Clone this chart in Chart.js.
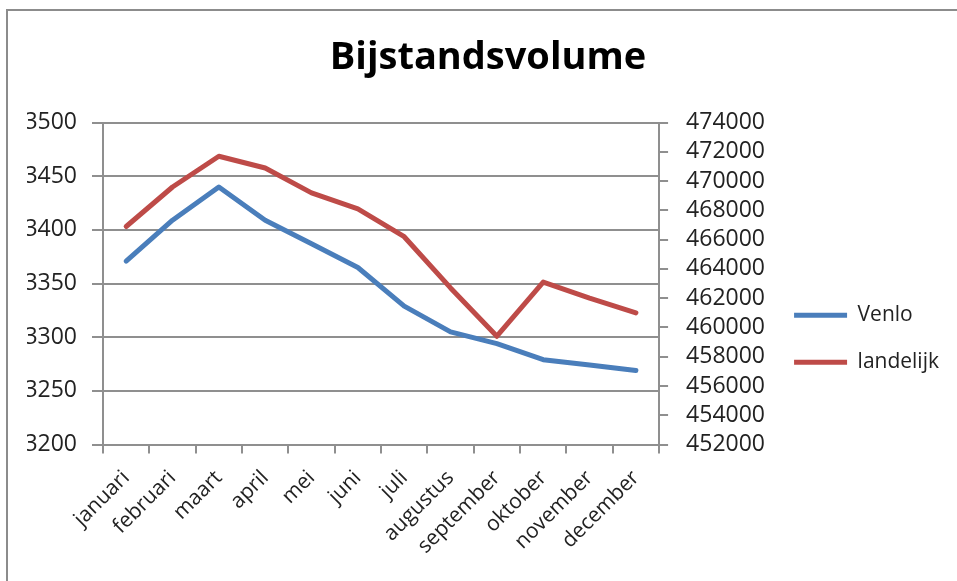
<!DOCTYPE html>
<html>
<head>
<meta charset="utf-8">
<script src="https://cdn.jsdelivr.net/npm/chart.js@4.4.1/dist/chart.umd.min.js"></script>
<style>
    html, body { margin: 0; padding: 0; background: #fff; overflow: hidden; }
    .frame { position: absolute; left: 6px; top: 9px; width: 1000px; height: 1000px;
             border-top: 2px solid #8c8c8c; border-left: 2px solid #8c8c8c; }
    #chart { position: absolute; left: 0; top: 0; }
</style>
</head>
<body>
<div class="frame"></div>
<canvas id="chart" width="957" height="581"></canvas>
<script>
const months = ['januari', 'februari', 'maart', 'april', 'mei', 'juni', 'juli', 'augustus', 'september', 'oktober', 'november', 'december'];
const venlo = [3371, 3409, 3440, 3409, 3387, 3365, 3329, 3305, 3294, 3279, 3274, 3269];
const landelijk = [466900, 469600, 471700, 470900, 469200, 468100, 466200, 462700, 459400, 463100, 462000, 461000];
const seriesNames = ['Venlo', 'landelijk'];

const gridColor = '#8f8f8f';
const textColor = '#222';

document.addEventListener('DOMContentLoaded', () => {
    let ctx = document.getElementById('chart').getContext('2d');
    new Chart(ctx, {
        type: 'line',
        data: {
            labels: months,
            datasets: [{
                label: seriesNames[0],
                data: venlo,
                yAxisID: 'y',
                borderColor: '#4a7ebb',
                backgroundColor: '#4a7ebb',
                borderWidth: 5,
                pointRadius: 0,
                tension: 0,
                borderJoinStyle: 'round',
                borderCapStyle: 'round'
            }, {
                label: seriesNames[1],
                data: landelijk,
                yAxisID: 'y1',
                borderColor: '#be4b48',
                backgroundColor: '#be4b48',
                borderWidth: 5,
                pointRadius: 0,
                tension: 0,
                borderJoinStyle: 'round',
                borderCapStyle: 'round'
            }]
        },
        options: {
            responsive: false,
            animation: false,
            layout: { padding: { left: 27, right: 8, top: 0, bottom: 0 } },
            plugins: {
                title: {
                    display: true,
                    text: 'Bijstandsvolume',
                    color: '#000',
                    font: { family: 'Open Sans', size: 38, weight: 'bold' },
                    padding: { top: 35, bottom: 42 }
                },
                legend: {
                    position: 'right',
                    maxWidth: 220,
                    title: { display: true, text: '', padding: { top: 82, bottom: 0 }, font: { size: 12 } },
                    labels: {
                        boxWidth: 53,
                        boxHeight: 5,
                        padding: 26,
                        color: textColor,
                        font: { family: 'Open Sans', size: 21 },
                        generateLabels: chart => chart.data.datasets.map((ds, i) => ({
                            text: ds.label,
                            fillStyle: ds.borderColor,
                            strokeStyle: ds.borderColor,
                            fontColor: textColor,
                            lineWidth: 0,
                            datasetIndex: i
                        }))
                    }
                },
                tooltip: { enabled: false }
            },
            scales: {
                x: {
                    offset: true,
                    grid: { display: true, drawOnChartArea: false, offset: true, tickLength: 9, color: gridColor, lineWidth: 2 },
                    border: { color: gridColor, width: 2 },
                    ticks: { minRotation: 45, maxRotation: 45, padding: 12, color: textColor, font: { family: 'Open Sans', size: 21 } },
                    afterFit: s => { s.height = 136.5; }
                },
                y: {
                    position: 'left',
                    min: 3200,
                    max: 3500,
                    ticks: { stepSize: 50, padding: 15, autoSkip: false, color: textColor,
                             font: { family: 'Open Sans', size: 23 }, callback: v => String(v) },
                    grid: { color: gridColor, lineWidth: 2, tickLength: 11 },
                    border: { color: gridColor, width: 2 },
                    afterFit: s => { s.width = 76; }
                },
                y1: {
                    position: 'right',
                    min: 452000,
                    max: 474000,
                    ticks: { stepSize: 2000, padding: 18, autoSkip: false, color: textColor,
                             font: { family: 'Open Sans', size: 23 }, callback: v => String(v) },
                    grid: { drawOnChartArea: false, color: gridColor, lineWidth: 2, tickLength: 9 },
                    border: { color: gridColor, width: 2 },
                    afterFit: s => { s.width = 109; }
                }
            }
        }
    });
});
</script>
</body>
</html>
